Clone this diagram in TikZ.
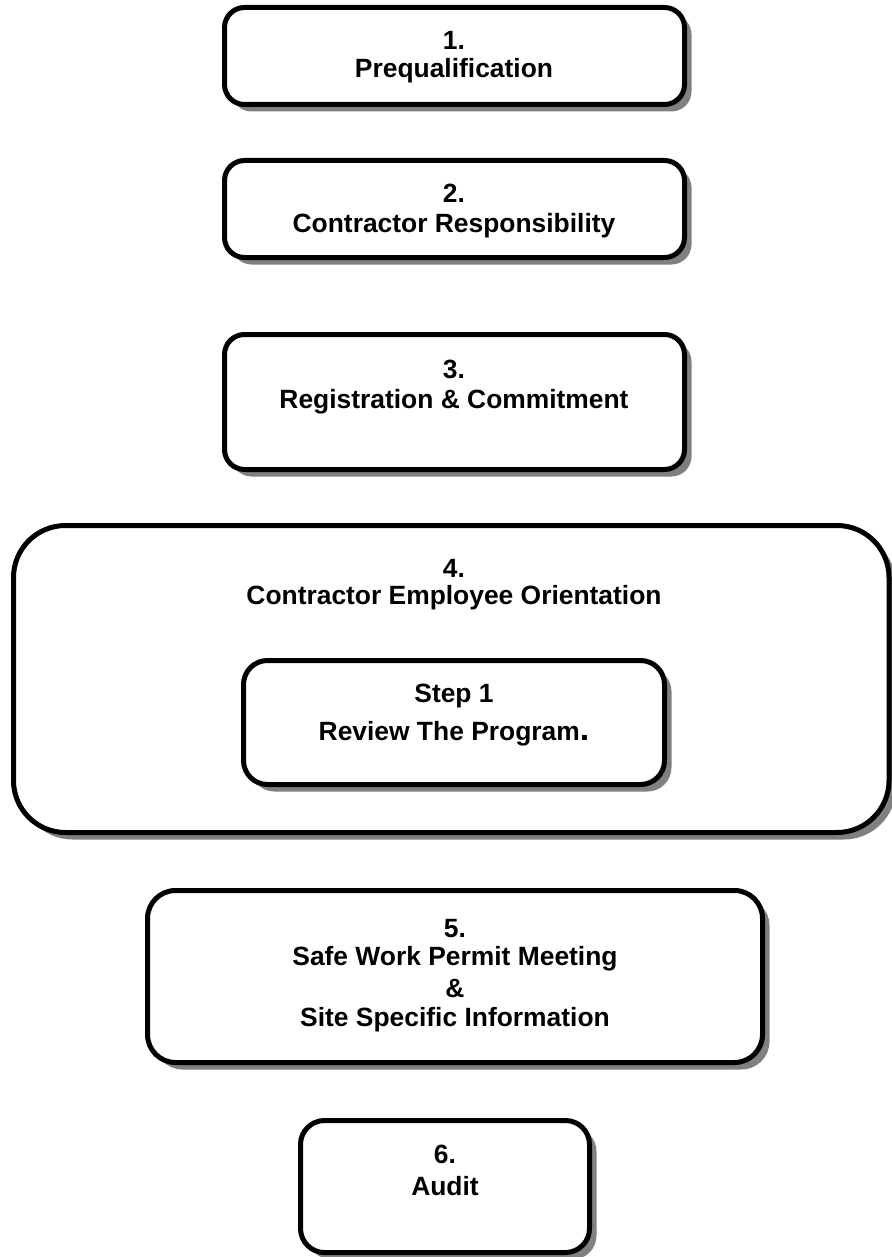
\documentclass[tikz,border=0pt]{standalone}
\usepackage{fontspec}
\setmainfont{Liberation Sans}
\usetikzlibrary{shadows}
\definecolor{shadowgray}{HTML}{808080}
\tikzset{
  box/.style={draw=black, line width=2.5pt, fill=white, rectangle,
    inner sep=0pt,
    drop shadow={shadow xshift=3.5pt, shadow yshift=-3.5pt, fill=shadowgray, opacity=1}},
  lbl/.style={anchor=base, inner sep=0pt, font=\fontsize{13.2}{15}\selectfont\bfseries}
}
\begin{document}
\begin{tikzpicture}[x=0.5pt,y=-0.5pt]
\useasboundingbox (0,0) rectangle (892,1257);
% boxes
\node[box, rounded corners=10pt, minimum width=230pt, minimum height=48.5pt] (b1) at (454.5,56) {};
\node[box, rounded corners=10pt, minimum width=230pt, minimum height=48.5pt] (b2) at (454.5,209) {};
\node[box, rounded corners=10pt, minimum width=230pt, minimum height=67.5pt] (b3) at (454.5,402) {};
\node[box, rounded corners=26pt, minimum width=437.75pt, minimum height=153.5pt] (b4) at (451.25,679) {};
\node[box, rounded corners=12pt, minimum width=210.5pt, minimum height=62pt] (b4s) at (454,722.5) {};
\node[box, rounded corners=14pt, minimum width=307.5pt, minimum height=86pt] (b5) at (455,976.5) {};
\node[box, rounded corners=12pt, minimum width=144.5pt, minimum height=66pt] (b6) at (445,1186.5) {};
% labels
\node[lbl] (t1a) at (454,50) {1.};
\node[lbl] (t1b) at (454,78) {Prequalification};
\node[lbl] (t2a) at (454,203) {2.};
\node[lbl] (t2b) at (454,233) {Contractor Responsibility};
\node[lbl] (t3a) at (454,378) {3.};
\node[lbl] (t3b) at (454,408) {Registration \& Commitment};
\node[lbl] (t4a) at (454,577) {4.};
\node[lbl] (t4b) at (454,604) {Contractor Employee Orientation};
\node[lbl] (t4c) at (454,702) {Step 1};
\node[lbl] (t4d) at (454,740) {Review The Program{\fontsize{17}{17}\selectfont.}};
\node[lbl] (t5a) at (455,937) {5.};
\node[lbl] (t5b) at (455,965) {Safe Work Permit Meeting};
\node[lbl] (t5c) at (455,997) {\&};
\node[lbl] (t5d) at (455,1026) {Site Specific Information};
\node[lbl] (t6a) at (445,1163) {6.};
\node[lbl] (t6b) at (445,1195) {Audit};
\end{tikzpicture}
\end{document}
